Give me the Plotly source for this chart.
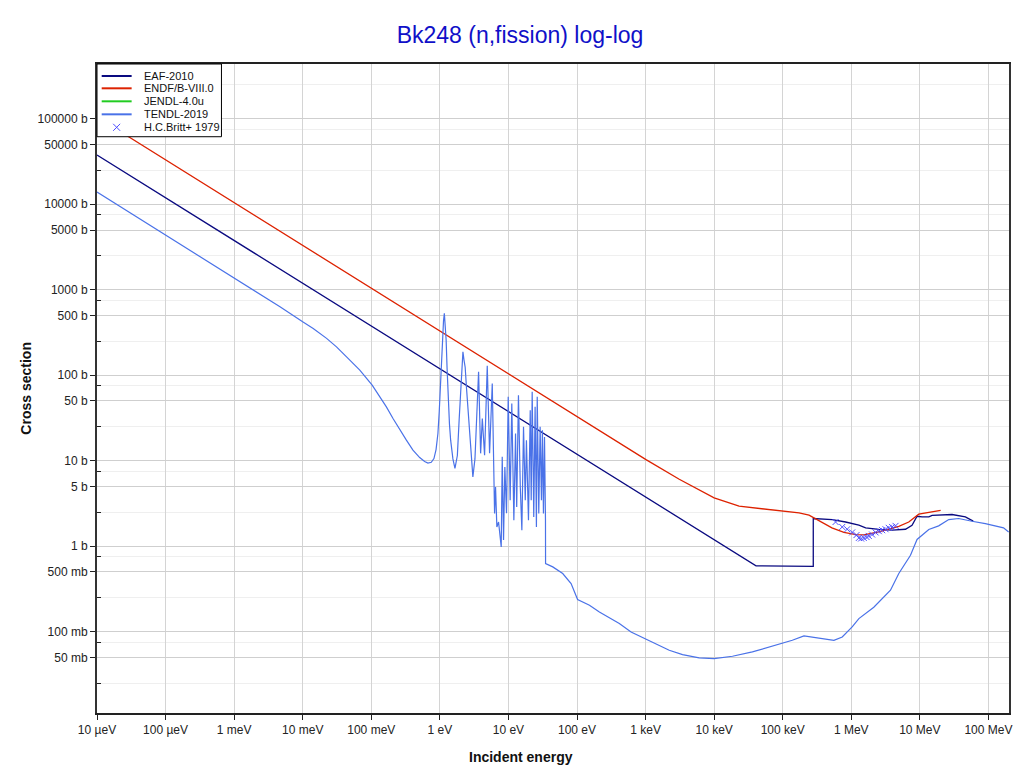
import plotly.graph_objects as go

# ---------------- data (energy in eV, cross section in barn) ----------------
eaf_E = [1e-5, 4.08e4, 2.79e5, 2.79e5, 5.27e5, 8.26e5, 1.29e6, 1.62e6, 2.52e6, 3.94e6,
         6.17e6, 7.69e6, 9.10e6, 1.08e7, 1.35e7, 1.51e7, 2.94e7, 4.61e7, 6.0e7]
eaf_s = [37700, 0.59, 0.58, 2.11, 2.05, 1.92, 1.76, 1.64, 1.57, 1.54,
         1.58, 1.76, 2.24, 2.20, 2.20, 2.29, 2.35, 2.20, 1.97]

endf_E = [1e-5, 101, 1014, 3097, 6050, 1.0e4, 2.31e4, 4.52e4, 8.84e4, 1.73e5, 2.42e5,
          3.38e5, 5.22e5, 7.8e5, 1.17e6, 1.52e6, 2.52e6, 4.93e6, 6.89e6, 9.64e6, 1.35e7, 2.01e7]
endf_s = [105000, 33.2, 10.3, 6.08, 4.61, 3.68, 2.94, 2.76, 2.59, 2.45, 2.31,
          1.98, 1.64, 1.45, 1.37, 1.36, 1.47, 1.71, 1.92, 2.37, 2.50, 2.62]

tendl_E = [1e-5, 1e-3, 4.66e-3, 9.98e-3, 0.01422, 0.0223, 0.0311, 0.0436, 0.068, 0.103, 0.133,
           0.166, 0.2075, 0.260, 0.325, 0.405, 0.508, 0.60, 0.67, 0.75, 0.82, 0.88, 0.937,
           0.98, 1.027, 1.065, 1.099, 1.13, 1.163, 1.20, 1.235, 1.275, 1.321, 1.38, 1.437, 1.55,
           1.66, 1.80, 1.91, 2.04, 2.10, 2.17, 2.25, 2.34, 2.45, 2.63, 2.85, 3.03, 3.25, 3.38,
           3.55, 3.67,
           3.93, 4.16, 4.49, 4.91, 5.31, 5.81, 6.28, 6.49, 6.78, 7.18, 7.85, 8.12, 8.49, 8.87,
           9.38, 9.93, 10.6, 11.2, 12.0, 12.7, 13.2, 14.0, 14.9, 15.7, 16.6, 17.6, 18.3, 19.6,
           20.8, 21.5, 22.2, 23.4, 24.5, 25.6, 26.3, 27.7, 29.0, 30.3, 31.3, 32.4, 33.6, 34.4,
           34.7, 34.8, 44.3, 61.9, 82.0, 102, 152, 212, 414, 614, 1014, 1417, 2213, 3459, 6050,
           1.0e4, 1.85e4, 3.61e4, 7.06e4, 1.38e5, 2.04e5, 3.38e5, 5.58e5, 7.38e5, 1.03e6, 1.29e6,
           2.13e6, 3.73e6, 4.93e6, 7.3e6, 9.1e6, 1.35e7, 1.88e7, 2.64e7, 3.68e7, 5.75e7, 9.02e7,
           1.66e8, 1.97e8]
tendl_s = [13900, 1390, 632, 422, 353, 270, 215, 164, 115, 76.6, 55.9,
           42.7, 31.2, 22.8, 17.4, 13.3, 10.9, 9.8, 9.4, 9.6, 10.6, 13.5, 20.8,
           38, 87.6, 180, 337, 430, 529, 400, 258, 120, 51.1, 27, 17.4, 10.5,
           8.12, 11.5, 29.8, 87.6, 140, 188, 150, 124, 70, 29.8, 11, 6.47, 10.5, 22.8,
           55, 110,
           12.2, 31.2, 11.6, 129, 12.2, 80.2, 2.41, 4.94, 1.68, 1.92, 0.98, 11.1, 1.18, 8.47,
           2.43, 55.9, 3.45, 46.8, 2.01, 20.8, 2.88, 58.5, 4.94, 1.54, 24.9, 3.45, 17.4, 2.01,
           39.0, 3.45, 63.9, 2.20, 42.7, 1.68, 55.9, 2.41, 24.9, 3.45, 22.8, 2.41, 19.0, 7.09,
           2.0, 0.627, 0.573, 0.479, 0.366, 0.238, 0.204, 0.170, 0.125, 0.0993, 0.0816, 0.0727,
           0.0607, 0.054, 0.0493,
           0.0485, 0.0516, 0.058, 0.0676, 0.0794, 0.0892, 0.0845, 0.0794, 0.0868, 0.1137, 0.1425,
           0.193, 0.306, 0.479, 0.785, 1.20, 1.57, 1.73, 2.05, 2.11, 1.96, 1.84,
           1.64, 1.47]

britt_E = [5.90e5, 7.38e5, 8.71e5, 1.03e6, 1.19e6, 1.29e6, 1.39e6, 1.52e6, 1.67e6, 1.80e6,
           2.01e6, 2.26e6, 2.52e6, 2.82e6, 3.16e6, 3.52e6, 3.94e6, 4.42e6]
britt_s = [1.92, 1.68, 1.58, 1.45, 1.35, 1.25, 1.23, 1.25, 1.28, 1.32,
           1.37, 1.45, 1.50, 1.54, 1.58, 1.64, 1.68, 1.73]

x_tickvals = [1e-5, 1e-4, 1e-3, 1e-2, 1e-1, 1, 10, 100, 1e3, 1e4, 1e5, 1e6, 1e7, 1e8]
x_ticktext = ["10 µeV", "100 µeV", "1 meV", "10 meV", "100 meV", "1 eV", "10 eV", "100 eV",
              "1 keV", "10 keV", "100 keV", "1 MeV", "10 MeV", "100 MeV"]
y_tickvals = [0.05, 0.1, 0.5, 1, 5, 10, 50, 100, 500, 1000, 5000, 1e4, 5e4, 1e5]
y_ticktext = ["50 mb", "100 mb", "500 mb", "1 b", "5 b", "10 b", "50 b", "100 b", "500 b",
              "1000 b", "5000 b", "10000 b", "50000 b", "100000 b"]
y_minorvals = [0.025, 0.075, 0.25, 0.75, 2.5, 7.5, 25, 75, 250, 750, 2500, 7500, 25000, 75000, 250000]

legend_names = ["EAF-2010", "ENDF/B-VIII.0", "JENDL-4.0u", "TENDL-2019", "H.C.Britt+ 1979"]
legend_colors = ["#0a0a80", "#dd2200", "#22cc22", "#4a72e8", "#4d4dff"]

FONT = "Liberation Sans, Arial, sans-serif"
XR = [-5, 8.3]
YR = [-1.951, 5.641]

fig = go.Figure()
fig.add_trace(go.Scatter(x=eaf_E, y=eaf_s, mode="lines", name=legend_names[0],
                         line=dict(color=legend_colors[0], width=1.3)))
fig.add_trace(go.Scatter(x=endf_E, y=endf_s, mode="lines", name=legend_names[1],
                         line=dict(color=legend_colors[1], width=1.3)))
fig.add_trace(go.Scatter(x=tendl_E, y=tendl_s, mode="lines", name=legend_names[3],
                         line=dict(color=legend_colors[3], width=1.2)))
fig.add_trace(go.Scatter(x=britt_E, y=britt_s, mode="markers", name=legend_names[4],
                         marker=dict(symbol="x-thin-open", size=6, color=legend_colors[4],
                                     line=dict(width=1, color=legend_colors[4]))))

# plot area in page pixels: left 97, top 64, width 913.7, height 648.7
PW, PH = 913.7, 648.7
def px(xp):
    return (xp - 97) / PW
def py(yp):
    return 1 - (yp - 64) / PH

shapes = []
annotations = []
# custom legend box
shapes.append(dict(type="rect", xref="paper", yref="paper", x0=px(97), x1=px(221.7),
                   y0=py(136.7), y1=py(64), line=dict(color="black", width=1),
                   fillcolor="white", layer="above"))
rows = [76, 88.3, 101.3, 114.3, 127.3]
for i, name in enumerate(legend_names):
    yy = py(rows[i])
    if i < 4:
        shapes.append(dict(type="line", xref="paper", yref="paper", x0=px(101.7), x1=px(131.7),
                           y0=yy, y1=yy, line=dict(color=legend_colors[i], width=2), layer="above"))
    else:
        cx, cy = 116.7, rows[i]
        for s in (1, -1):
            shapes.append(dict(type="line", xref="paper", yref="paper",
                               x0=px(cx - 3.5), x1=px(cx + 3.5), y0=py(cy - 3.5 * s), y1=py(cy + 3.5 * s),
                               line=dict(color=legend_colors[i], width=1), layer="above"))
    annotations.append(dict(text=name, xref="paper", yref="paper", x=px(142), y=yy,
                            xanchor="left", yanchor="middle", showarrow=False,
                            font=dict(size=11, color="#111", family=FONT)))

annotations.append(dict(text="<b>Incident energy</b>", xref="paper", yref="paper",
                        x=px(522), y=py(757), showarrow=False,
                        xanchor="center", yanchor="middle", font=dict(size=14, color="#111", family=FONT)))
annotations.append(dict(text="<b>Cross section</b>", xref="paper", yref="paper",
                        x=px(25), y=0.5, showarrow=False, textangle=-90,
                        xanchor="center", yanchor="middle", font=dict(size=14, color="#111", family=FONT)))

# page has an 8px body margin -> figure is drawn offset by 8px
fig.update_layout(
    width=1016, height=765,
    margin=dict(l=89, r=13.3, t=56, b=60.3),
    paper_bgcolor="white", plot_bgcolor="white",
    font=dict(family=FONT, size=12, color="#222"),
    title=dict(text="Bk248 (n,fission) log-log", x=512 / 1016, xanchor="center",
               y=1 - 27 / 765, yanchor="middle",
               font=dict(size=23, color="#1010c8", family=FONT)),
    showlegend=False,
    shapes=shapes,
    annotations=annotations,
    xaxis2=dict(type="log", range=XR, overlaying="x", side="top", anchor="y",
                tickmode="array", tickvals=x_tickvals, ticks="inside", ticklen=4,
                tickcolor="#222", showticklabels=False, showgrid=False, showline=False,
                zeroline=False),
    yaxis2=dict(type="log", range=YR, overlaying="y", side="right", anchor="x",
                tickmode="array", tickvals=y_tickvals, ticks="inside", ticklen=4,
                tickcolor="#222", showticklabels=False, showgrid=False, showline=False,
                zeroline=False),
)

fig.layout.xaxis.update(type="log", range=XR, tickmode="array", tickvals=x_tickvals,
                        ticktext=x_ticktext, showgrid=True, gridcolor="#d4d4d4", gridwidth=1,
                        ticks="outside", ticklen=5, tickcolor="#222", showline=True,
                        linecolor="#222", linewidth=1.5, mirror=True, zeroline=False,
                        tickfont=dict(size=12, color="#222"))
fig.layout.yaxis.update(type="log", range=YR, tickmode="array", tickvals=y_tickvals,
                        ticktext=y_ticktext, showgrid=True, gridcolor="#cfcfcf", gridwidth=1,
                        ticks="outside", ticklen=5, tickcolor="#222", showline=True,
                        linecolor="#333", linewidth=2, mirror=True, zeroline=False,
                        tickfont=dict(size=12, color="#222"),
                        minor=dict(tickmode="array", tickvals=y_minorvals, showgrid=True,
                                   gridcolor="#efefef", ticks="inside", ticklen=4, tickcolor="#222"))

fig.write_html("out.html")
